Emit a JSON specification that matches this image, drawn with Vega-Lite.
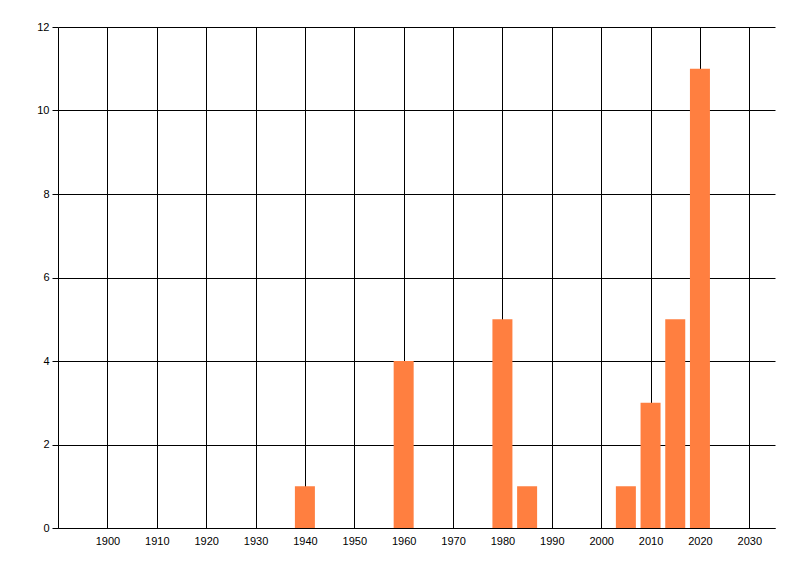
{
  "$schema": "https://vega.github.io/schema/vega-lite/v6.json",
  "autosize": "none",
  "width": 717,
  "height": 501,
  "padding": {"left": 58, "top": 27, "right": 25, "bottom": 48},
  "background": "white",
  "config": {
    "view": {"stroke": null},
    "axis": {"labelFont": "Liberation Sans", "labelFontSize": 11, "labelColor": "#000000"}
  },
  "data": {
    "values": [
      {"year": 1940, "count": 1},
      {"year": 1960, "count": 4},
      {"year": 1980, "count": 5},
      {"year": 1985, "count": 1},
      {"year": 2005, "count": 1},
      {"year": 2010, "count": 3},
      {"year": 2015, "count": 5},
      {"year": 2020, "count": 11}
    ]
  },
  "mark": {"type": "bar", "width": 20, "color": "#FF7F40"},
  "encoding": {
    "x": {
      "field": "year",
      "type": "quantitative",
      "scale": {"domain": [1890, 2035.2], "nice": false, "zero": false, "padding": 0},
      "axis": {
        "title": null,
        "values": [1900, 1910, 1920, 1930, 1940, 1950, 1960, 1970, 1980, 1990, 2000, 2010, 2020, 2030],
        "format": "d",
        "grid": true,
        "gridColor": "#000000",
        "gridOpacity": 1,
        "gridWidth": 1,
        "domainColor": "#000000",
        "domainWidth": 1,
        "ticks": false,
        "labelPadding": 7,
        "labelFlush": false
      }
    },
    "y": {
      "field": "count",
      "type": "quantitative",
      "scale": {"domain": [0, 12], "nice": false},
      "axis": {
        "title": null,
        "values": [0, 2, 4, 6, 8, 10, 12],
        "grid": true,
        "gridColor": "#000000",
        "gridOpacity": 1,
        "gridWidth": 1,
        "domainColor": "#000000",
        "domainWidth": 1,
        "ticks": true,
        "tickColor": "#000000",
        "tickSize": 6,
        "labelPadding": 3,
        "labelFlush": false
      }
    }
  }
}
